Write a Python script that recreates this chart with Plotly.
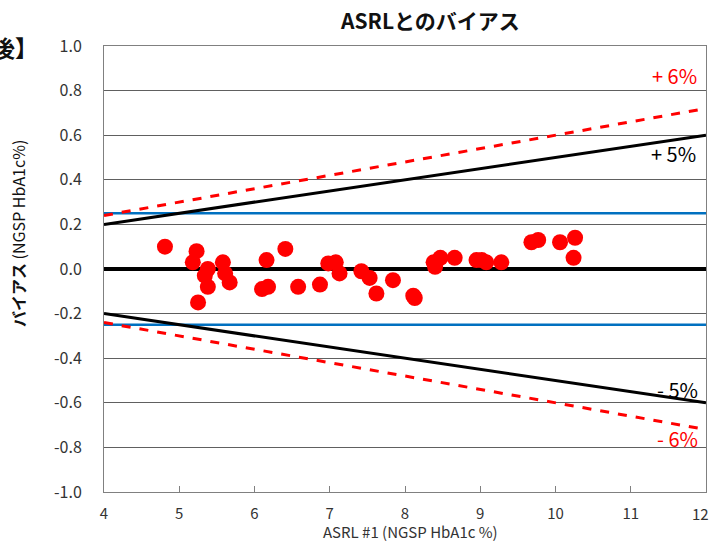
import plotly.graph_objects as go

# Data
asrl = [4.81, 5.23, 5.18, 5.38, 5.34, 5.38, 5.25, 5.58, 5.61, 5.67,
        6.16, 6.18, 6.10, 6.41, 6.58, 6.87, 6.98, 7.08, 7.13, 7.42,
        7.53, 7.62, 7.84, 8.11, 8.13, 8.38, 8.47, 8.40, 8.66, 8.95,
        9.02, 9.08, 9.28, 9.68, 9.77, 10.06, 10.26, 10.24]
bias = [0.10, 0.08, 0.03, 0.00, -0.03, -0.08, -0.15, 0.03, -0.02, -0.06,
        0.04, -0.08, -0.09, 0.09, -0.08, -0.07, 0.025, 0.03, -0.02, -0.01,
        -0.04, -0.11, -0.05, -0.12, -0.13, 0.03, 0.05, 0.01, 0.05, 0.04,
        0.04, 0.03, 0.03, 0.12, 0.13, 0.12, 0.14, 0.05]

x_range = [4, 12]
pct_lines = [0.05, -0.05]
pct_dash = [0.06, -0.06]
blue_limits = [0.25, -0.25]

y_ticks = [1.0, 0.8, 0.6, 0.4, 0.2, 0.0, -0.2, -0.4, -0.6, -0.8, -1.0]
y_ticktext = ["1.0", "0.8", "0.6", "0.4", "0.2", "0.0", "-0.2", "-0.4", "-0.6", "-0.8", "-1.0"]
x_ticks = [4, 5, 6, 7, 8, 9, 10, 11, 12]
x_ticktext = ["4", "5", "6", "7", "8", "9", "10", "11", ""]
x_last_label = "12"

FONT = "Noto Sans CJK JP"
fig = go.Figure()

for b in blue_limits:
    fig.add_trace(go.Scatter(x=x_range, y=[b, b], mode="lines",
                             line=dict(color="#0070C0", width=2.5),
                             showlegend=False, hoverinfo="skip"))

fig.add_trace(go.Scatter(x=x_range, y=[0, 0], mode="lines",
                         line=dict(color="black", width=4),
                         showlegend=False, hoverinfo="skip"))

for p in pct_lines:
    fig.add_trace(go.Scatter(x=x_range, y=[p * v for v in x_range], mode="lines",
                             line=dict(color="black", width=3),
                             showlegend=False, hoverinfo="skip"))
for p in pct_dash:
    fig.add_trace(go.Scatter(x=x_range, y=[p * v for v in x_range], mode="lines",
                             line=dict(color="#FF0000", width=3, dash="dash"),
                             showlegend=False, hoverinfo="skip"))

fig.add_trace(go.Scatter(x=asrl, y=bias, mode="markers",
                         marker=dict(color="#FF0000", size=16),
                         showlegend=False))

fig.update_layout(
    width=711, height=542,
    margin=dict(l=104, r=5, t=46, b=50, autoexpand=False),
    paper_bgcolor="white", plot_bgcolor="white",
    font=dict(family=FONT, size=14, color="#333333"),
    xaxis=dict(range=x_range, tickvals=x_ticks, ticktext=x_ticktext,
               showgrid=False, automargin=False,
               ticks="inside", ticklen=6, tickcolor="#808080",
               showline=True, linecolor="#808080", linewidth=1, mirror=True,
               zeroline=False, tickfont=dict(size=15, color="#333333"),
               ticklabelstandoff=8, ticklabeloverflow="allow"),
    yaxis=dict(range=[-1.0, 1.0], tickvals=y_ticks, ticktext=y_ticktext,
               showgrid=True, gridcolor="#606060", gridwidth=1, automargin=False,
               showline=True, linecolor="#808080", linewidth=1, mirror=True,
               zeroline=False, ticks="", tickfont=dict(size=16, color="#333333"),
               ticklabelstandoff=18, ticklabeloverflow="allow"),
)

# last x tick label, kept inside the page edge
fig.add_annotation(xref="paper", yref="paper", x=(711 - 104) / (711 - 104 - 5),
                   y=(542 - 50 - 513) / (542 - 46 - 50), xanchor="right", yanchor="middle",
                   showarrow=False, text=x_last_label,
                   font=dict(family=FONT, size=15, color="#333333"))

annotations = [
    dict(text="<b>ASRLとのバイアス</b>", x=430, y=20, font=dict(size=21, color="#111111")),
    dict(text="<b>後】</b>", x=15, y=47, font=dict(size=23, color="#111111")),
    dict(text="<b>バイアス</b> (NGSP HbA1c%)", x=18, y=234, textangle=-90,
         font=dict(size=16, color="#111111")),
    dict(text="ASRL #1 (NGSP HbA1c %)", x=410, y=531, font=dict(size=15, color="#333333")),
    dict(text="+ 6%", x=674, y=76, font=dict(size=20, color="#FF0000")),
    dict(text="+ 5%", x=673, y=153, font=dict(size=20, color="black")),
    dict(text="- 5%", x=677, y=389, font=dict(size=20, color="black")),
    dict(text="- 6%", x=677, y=438, font=dict(size=20, color="#FF0000")),
]
pw = 711 - 104 - 5
ph = 542 - 46 - 50
for a in annotations:
    fig.add_annotation(xref="paper", yref="paper", showarrow=False,
                       x=(a["x"] - 104) / pw, y=(542 - 50 - a["y"]) / ph,
                       xanchor="center", yanchor="middle",
                       text=a["text"], font=dict(family=FONT, **a["font"]),
                       textangle=a.get("textangle", 0))

fig.write_html("out.html", config={"displayModeBar": False},
               post_script="document.body.style.margin='0';document.body.style.overflow='hidden';")
